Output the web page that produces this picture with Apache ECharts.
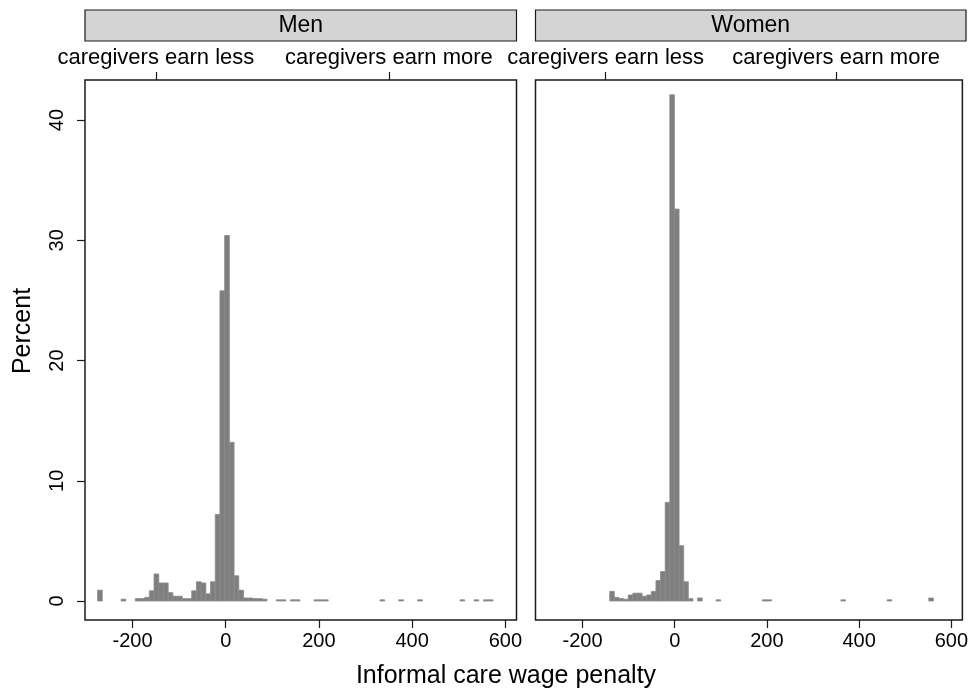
<!DOCTYPE html>
<html><head><meta charset="utf-8">
<script src="https://cdn.jsdelivr.net/npm/echarts@6/dist/echarts.min.js"></script>
<style>html,body{margin:0;padding:0;background:#fff}#c{width:971px;height:691px}</style>
</head><body><div id="c"></div>
<script>
// ---- data ----
const panels = ['Men', 'Women'];
const menBinStart = -275;
const menBinWidth = 10.1;
const menPercent = [
  0.9, 0, 0, 0, 0, 0.15, 0, 0, 0.2, 0.2,
  0.3, 0.85, 2.25, 1.5, 1.5, 0.7, 0.4, 0.4, 0.2, 0.2,
  0.85, 1.6, 1.5, 0.6, 1.6, 7.2, 25.8, 30.4, 13.2, 2.1,
  0.9, 0.25, 0.25, 0.2, 0.2, 0.15, 0, 0, 0.1, 0.1,
  0, 0.1, 0.1, 0, 0, 0, 0.1, 0.1, 0.1, 0,
  0, 0, 0, 0, 0, 0, 0, 0, 0, 0,
  0.1, 0, 0, 0, 0.1, 0, 0, 0, 0.1, 0,
  0, 0, 0, 0, 0, 0, 0, 0.1, 0, 0,
  0.1, 0, 0.1, 0.1
];
const womenBinStart = -141;
const womenBinWidth = 10.03;
const womenPercent = [
  0.8, 0.3, 0.2, 0.15, 0.5, 0.65, 0.65, 0.4, 0.5, 0.8,
  1.7, 2.45, 8.2, 42.1, 32.6, 4.6, 1.6, 0.2, 0, 0.25,
  0, 0, 0, 0.1, 0, 0, 0, 0, 0, 0,
  0, 0, 0, 0.1, 0.1, 0, 0, 0, 0, 0,
  0, 0, 0, 0, 0, 0, 0, 0, 0, 0,
  0.1, 0, 0, 0, 0, 0, 0, 0, 0, 0,
  0.1, 0, 0, 0, 0, 0, 0, 0, 0, 0.25
];
const xTickValues = [-200, 0, 200, 400, 600];
const yTickValues = [0, 10, 20, 30, 40];
const topTickValues = [-150, 350];
const topTickLabels = ['caregivers earn less', 'caregivers earn more'];
const xTitle = 'Informal care wage penalty';
const yTitle = 'Percent';

// ---- build ----
const FONT = '"Liberation Sans", Arial, sans-serif';
const xMin = -302, xMax = 624, yMin = -1.58, yMax = 43.33;

function bins(start, width, values) {
  const out = [];
  values.forEach((v, i) => { if (v > 0) out.push([start + i * width, start + (i + 1) * width, v]); });
  return out;
}
const panelData = [bins(menBinStart, menBinWidth, menPercent), bins(womenBinStart, womenBinWidth, womenPercent)];

const gridBoxes = [{ left: 85, right: 971 - 516.5 }, { left: 535.5, right: 5 }];
const grids = [], xAxes = [], yAxes = [], series = [];
const tickStyle = { color: '#1a1a1a', width: 1.2 };
panels.forEach((p, i) => {
  grids.push({ left: gridBoxes[i].left, right: gridBoxes[i].right, top: 80, bottom: 71,
    show: true, borderColor: '#1a1a1a', borderWidth: 1.5, backgroundColor: '#fff' });
  xAxes.push({ type: 'value', gridIndex: i, position: 'bottom', min: xMin, max: xMax,
    axisLine: { show: false, onZero: false }, splitLine: { show: false },
    axisTick: { show: true, length: 8, customValues: xTickValues, lineStyle: tickStyle },
    axisLabel: { show: true, customValues: xTickValues, margin: 11, color: '#000', fontSize: 20, fontFamily: FONT } });
  xAxes.push({ type: 'value', gridIndex: i, position: 'top', min: xMin, max: xMax,
    axisLine: { show: false, onZero: false }, splitLine: { show: false },
    axisTick: { show: true, length: 8, customValues: topTickValues, lineStyle: tickStyle },
    axisLabel: { show: true, customValues: topTickValues, margin: 11, color: '#000', fontSize: 22, fontFamily: FONT,
      formatter: v => topTickLabels[topTickValues.indexOf(v)] } });
  yAxes.push({ type: 'value', gridIndex: i, position: 'left', min: yMin, max: yMax,
    axisLine: { show: false, onZero: false }, splitLine: { show: false },
    axisTick: { show: i === 0, length: 8, customValues: yTickValues, lineStyle: tickStyle },
    axisLabel: { show: i === 0, customValues: yTickValues, rotate: 90, margin: 18, color: '#000', fontSize: 20, fontFamily: FONT } });
  series.push({
    type: 'custom', xAxisIndex: i * 2, yAxisIndex: i, data: panelData[i],
    encode: { x: [0, 1], y: 2 },
    renderItem: (params, api) => {
      const a = api.coord([api.value(0), api.value(2)]);
      const b = api.coord([api.value(1), 0]);
      return { type: 'rect', shape: { x: a[0], y: a[1], width: b[0] - a[0], height: b[1] - a[1] },
        style: { fill: '#7f7f7f', stroke: '#8a8a8a', lineWidth: 0.8 } };
    }
  });
});

const headers = [{ x: 85, w: 431.5 }, { x: 535.5, w: 430.5 }];
const graphic = [];
panels.forEach((p, i) => {
  graphic.push({ type: 'rect', shape: { x: headers[i].x, y: 10, width: headers[i].w, height: 31 },
    style: { fill: '#d4d4d4', stroke: '#1a1a1a', lineWidth: 1.2 } });
  graphic.push({ type: 'text', x: headers[i].x + headers[i].w / 2, y: 26,
    style: { text: p, fill: '#000', font: '23px ' + FONT, textAlign: 'center', textVerticalAlign: 'middle' } });
});
graphic.push({ type: 'text', x: 506, y: 676,
  style: { text: xTitle, fill: '#000', font: '25px ' + FONT, textAlign: 'center', textVerticalAlign: 'middle' } });
graphic.push({ type: 'text', x: 23, y: 331, rotation: Math.PI / 2,
  style: { text: yTitle, fill: '#000', font: '25px ' + FONT, textAlign: 'center', textVerticalAlign: 'middle' } });

const chart = echarts.init(document.getElementById('c'), null, { renderer: 'canvas' });
chart.setOption({
  backgroundColor: '#fff',
  animation: false,
  grid: grids, xAxis: xAxes, yAxis: yAxes, series: series, graphic: graphic
});
</script></body></html>
